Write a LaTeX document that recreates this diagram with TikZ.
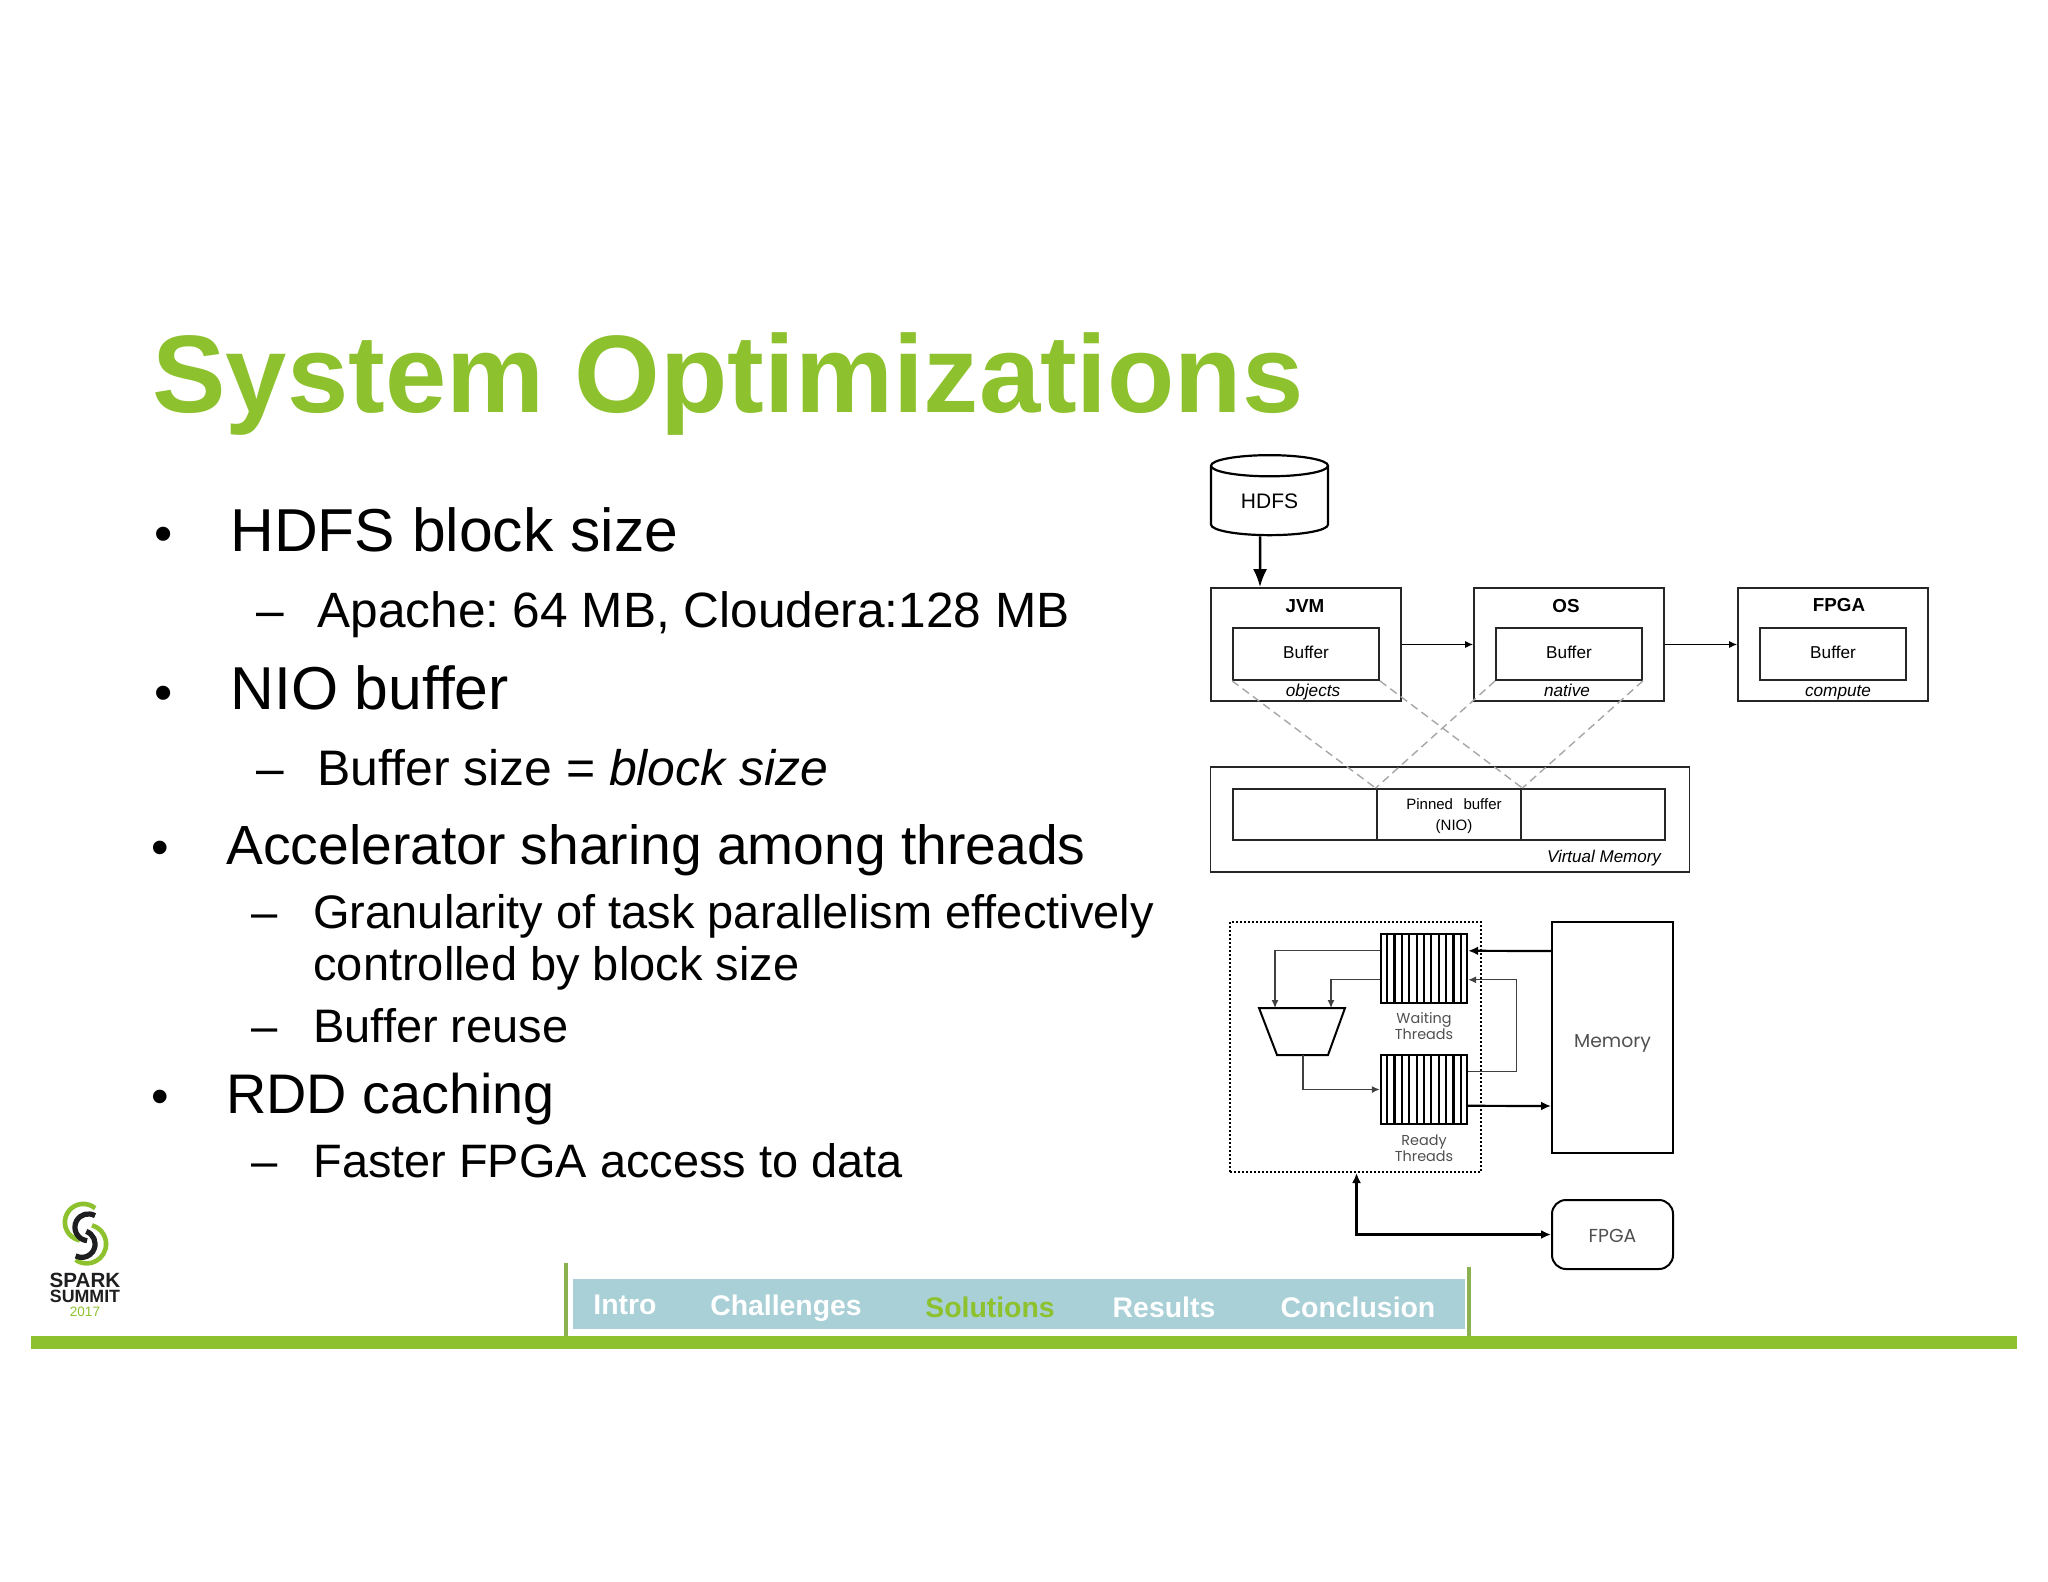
\documentclass[tikz,border=0pt]{standalone}
\usepackage{fontspec}
\setmainfont{Liberation Sans}
\newfontfamily\diagfont{Poppins}
\usetikzlibrary{arrows.meta,calc,shapes.geometric,positioning}
\definecolor{sparkgreen}{RGB}{141,193,45}
\definecolor{navteal}{RGB}{168,208,214}
\definecolor{railgreen}{RGB}{140,178,80}
\definecolor{logoink}{RGB}{30,30,32}
\definecolor{diagtext}{RGB}{80,80,80}
\tikzset{
    mainbox/.style={draw=black!85, line width=.9pt, inner sep=0pt},
    threadbox/.style={draw=black, line width=1.2pt, inner sep=0pt, minimum width=43pt, minimum height=34.5pt},
    bullettext/.style={anchor=base west, inner sep=0pt},
    label/.style={inner sep=0pt, align=center, font=\diagfont\fontsize{7.2}{7.9}\selectfont, text=diagtext},
    thinarrow/.style={draw=black!75, line width=.6pt, -{Latex[length=4pt,width=3.5pt]}},
    thickarrow/.style={draw=black, line width=1.1pt, -{Latex[length=5pt,width=4.5pt]}},
    tieline/.style={draw=gray!70, line width=.7pt, dashed, dash pattern=on 4pt off 2.5pt},
}
\begin{document}
\begin{tikzpicture}[x=.5pt,y=-.5pt]
    \useasboundingbox (0,0) rectangle (2048,1582);

    % Draw title and bullet list.
    \node[bullettext, font=\bfseries\fontsize{55.1}{55.1}\selectfont, text=sparkgreen] (title) at (152,413) {System Optimizations};
    \foreach \n/\x/\y/\s/\t in {
        hdfstxt/230/552/30.3/{HDFS block size},
        niotxt/230/709/30.3/{NIO buffer},
        acctxt/226/864/27.6/{Accelerator sharing among threads},
        rddtxt/226/1113/27.9/{RDD caching}}
        \node[bullettext, font=\fontsize{\s}{\s}\selectfont] (\n) at (\x,\y) {\t};
    \foreach \n/\x/\y/\s/\t in {
        apachetxt/317/627/24.8/{Apache:\hspace{-.1em} 64 MB, Cloudera:128 MB},
        sizetxt/317/785/24.95/{Buffer size = \textit{block size}},
        granatxt/313/928/23.5/{Granularity of task parallelism effectively},
        ctrltxt/313/980/23.5/{controlled by block size},
        reusetxt/313/1042/23.5/{Buffer reuse},
        fastertxt/313/1177/23.45/{Faster FPGA access to data}}
        \node[bullettext, font=\fontsize{\s}{\s}\selectfont] (\n) at (\x,\y) {\t};
    \foreach \n/\x/\y/\s in {b1/154/552/26, b2/154/710/26, b3/151/864/25, b4/151/1113/25}
        \node[bullettext, font=\fontsize{\s}{\s}\selectfont] (\n) at (\x,\y) {•};
    \foreach \n/\x/\y/\s in {d1/256/627/24.8, d2/256/785/24.8, d3/251/928/23.6, d4/251/1042/23.6, d5/251/1177/23.6}
        \node[bullettext, font=\fontsize{\s}{\s}\selectfont] (\n) at (\x,\y) {–};

    % Draw upper diagram.
    \node[cylinder, shape border rotate=90, draw=black, line width=1.1pt, inner sep=0pt, aspect=.37, minimum width=58.5pt, minimum height=40pt, font=\fontsize{10.5}{10.5}\selectfont] (hdfs) at (1269.5,501) {HDFS};
    \foreach \n/\x/\u/\v/\t in {jvm/1306/1305/606/JVM, os/1569/1566/606/OS, fpga/1833/1839/605/FPGA} {
        \node[mainbox, minimum width=95pt, minimum height=56.5pt] (\n) at (\x,644.5) {};
        \node[mainbox, minimum width=73pt, minimum height=26pt] (\n buf) at (\x,654) {};
        \node[font=\bfseries\fontsize{9.4}{9.4}\selectfont] (\n name) at (\u,\v) {\t};
        \node[font=\fontsize{8.6}{8.6}\selectfont] (\n lab) at (\x,652) {Buffer};
    }
    \node[anchor=base, font=\itshape\fontsize{8.6}{8.6}\selectfont] (objlab) at (1313,696) {objects};
    \node[anchor=base, font=\itshape\fontsize{8.6}{8.6}\selectfont] (natlab) at (1567,696) {native};
    \node[anchor=base, font=\itshape\fontsize{8.6}{8.6}\selectfont] (comlab) at (1838,696) {compute};
    \node[mainbox, minimum width=239.5pt, minimum height=52.5pt] (virt) at (1450,819.5) {};
    \node[mainbox, minimum width=72pt, minimum height=25.5pt] (vleft) at (1305,814.5) {};
    \node[mainbox, minimum width=72.5pt, minimum height=25.5pt] (pin) at (1449,814.5) {};
    \node[mainbox, minimum width=72pt, minimum height=25.5pt] (vright) at (1593,814.5) {};
    \node[font=\fontsize{7.5}{10.5}\selectfont, align=center] (pinlab) at (1454,816) {Pinned\hspace{.7em}buffer\\(NIO)};
    \node[font=\itshape\fontsize{8.5}{8.5}\selectfont] (virtlab) at (1604,858) {Virtual Memory};

    % Draw dashed ties to the pinned buffer.
    \draw[tieline] (jvmbuf.south west) -- (pin.north west);
    \draw[tieline] (jvmbuf.south east) -- (pin.north east);
    \draw[tieline] (osbuf.south west) -- (pin.north west);
    \draw[tieline] (osbuf.south east) -- (pin.north east);

    % Draw upper arrows.
    \draw[draw=black, line width=1.2pt, -{Latex[length=9pt,width=7pt]}] ([xshift=-4.7pt]hdfs.south) -- ([xshift=-23pt]jvm.north);
    \draw[thinarrow, draw=black] (jvm.east) -- (os.west);
    \draw[thinarrow, draw=black] (os.east) -- (fpga.west);

    % Draw thread block.
    \node[draw=black, line width=1pt, densely dotted, minimum width=125.5pt, minimum height=125pt, inner sep=0pt] (pool) at (1355.5,1047) {};
    \foreach \n/\y in {waiting/968.5, ready/1089.5} {
        \node[threadbox] (\n) at (1424,\y) {};
        \foreach \i in {1,...,11}
            \draw[line width=1.1pt] ($(\n.north west)!\i/12!(\n.north east)$) -- ($(\n.south west)!\i/12!(\n.south east)$);
    }
    \node[label] (waitlab) at (1424,1026) {Waiting\\Threads};
    \node[label] (readylab) at (1424,1148) {Ready\\Threads};
    \coordinate (muxa) at (1259,1008);
    \coordinate (muxb) at (1345,1008);
    \coordinate (muxc) at (1328,1055);
    \coordinate (muxd) at (1277,1055);
    \draw[draw=black, line width=1pt] (muxa) -- (muxb) -- (muxc) -- (muxd) -- cycle;
    \coordinate (muxleft) at (1275,1008);
    \coordinate (muxright) at (1331,1008);
    \coordinate (muxout) at (1303,1055);
    \node[mainbox, draw=black, line width=1pt, minimum width=60.5pt, minimum height=115.5pt] (mem) at (1612.5,1037.5) {};
    \node[font=\diagfont\fontsize{9.4}{9.4}\selectfont, text=diagtext] (memlab) at (1612.5,1043) {Memory};
    \node[mainbox, draw=black, line width=1pt, rounded corners=7pt, minimum width=60.5pt, minimum height=34.5pt] (fpgatwo) at (1612.5,1234.5) {};
    \node[font=\diagfont\fontsize{9.4}{9.4}\selectfont, text=diagtext] (fpgalab) at (1612.5,1236) {FPGA};

    % Draw thread block arrows.
    \draw[thinarrow] ([yshift=-9pt]waiting.north west) -| (muxleft);
    \draw[thinarrow] ([yshift=-23.5pt]waiting.north west) -| (muxright);
    \draw[thinarrow] (muxout) |- (ready.west);
    \coordinate (loopup) at ([xshift=24pt,yshift=-23.5pt]waiting.north east);
    \draw[thinarrow] ([yshift=-9pt]ready.north east) -| (loopup) -- ([yshift=-23.5pt]waiting.north east);
    \draw[thickarrow] ([yshift=-15pt]mem.north west) -- ([yshift=-9pt]waiting.north east);
    \draw[thickarrow] ([yshift=-26pt]ready.north east) -- ([yshift=-92.5pt]mem.north west);
    \draw[thickarrow, {Latex[length=5pt,width=4.5pt]}-{Latex[length=5pt,width=4.5pt]}] ([xshift=.5pt]pool.south) |- (fpgatwo.west);

    % Draw navigation strip.
    \node[fill=navteal, minimum width=446pt, minimum height=25pt, inner sep=0pt] (nav) at (1019,1304) {};
    \draw[railgreen, line width=2pt] ([yshift=8pt,xshift=-3.5pt]nav.north west) -- ([yshift=-5pt,xshift=-3.5pt]nav.south west);
    \draw[railgreen, line width=2pt] ([yshift=6pt,xshift=2pt]nav.north east) -- ([yshift=-5pt,xshift=2pt]nav.south east);
    \foreach \n/\x/\y/\c/\t in {navintro/625/1314/white/Intro, navchal/786/1315/white/Challenges, navsol/990/1317/sparkgreen/Solutions, navres/1164/1317/white/Results, navconc/1358/1317/white/Conclusion}
        \node[anchor=base, font=\bfseries\fontsize{14.2}{14.2}\selectfont, text=\c] (\n) at (\x,\y) {\t};
    \node[fill=sparkgreen, minimum width=993pt, minimum height=6.5pt, inner sep=0pt] (bar) at (1024,1342.5) {};

    % Draw logo.
    \draw[sparkgreen, line width=2.3pt] ($(83.3,1222.3)+(50:9.2pt)$) arc[start angle=50, end angle=259, radius=9.2pt];
    \draw[sparkgreen, line width=2.3pt] ($(86.7,1244)+(74:9.7pt)$) arc[start angle=74, end angle=-125, radius=9.7pt];
    \draw[logoink, line width=2.6pt] ($(88.3,1227.3)+(60:6.7pt)$) arc[start angle=60, end angle=265, radius=6.7pt];
    \draw[logoink, line width=2.6pt] ($(81.7,1244)+(70:6.7pt)$) arc[start angle=70, end angle=-117, radius=6.7pt];
    \node[anchor=base, inner sep=0pt, font=\bfseries\fontsize{10.3}{10.3}\selectfont, text=logoink] (spark) at (85,1287) {SPARK};
    \node[anchor=base, inner sep=0pt, font=\bfseries\fontsize{8.9}{8.9}\selectfont, text=logoink] (summit) at (85,1302) {SUMMIT};
    \node[anchor=base, inner sep=0pt, font=\fontsize{6.8}{6.8}\selectfont, text=sparkgreen] (year) at (85,1316) {2017};
\end{tikzpicture}
\end{document}
